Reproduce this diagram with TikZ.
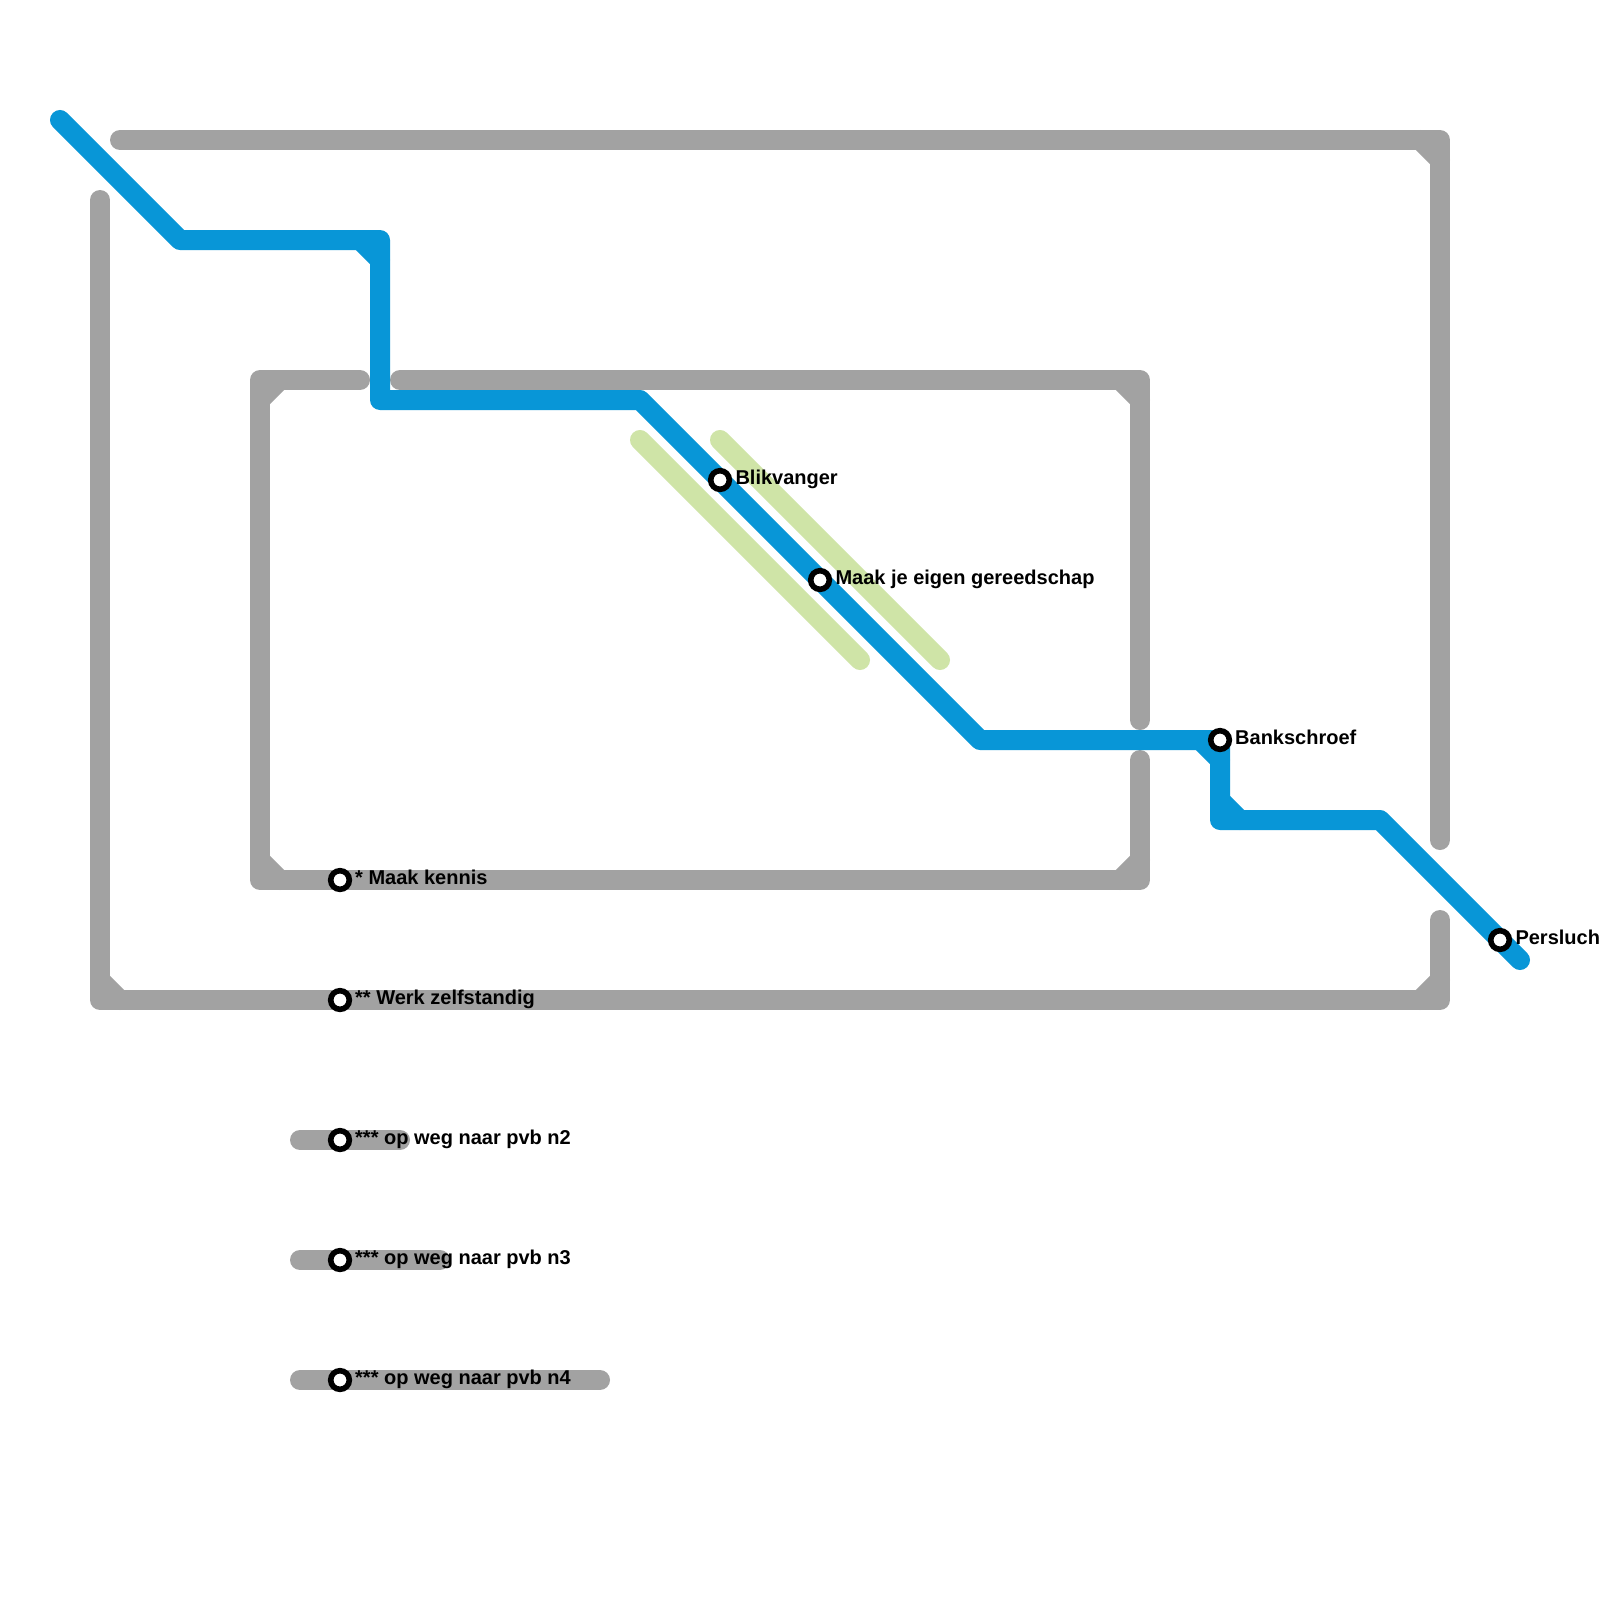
\documentclass[tikz,border=0pt]{standalone}
\usepackage{fontspec}
\setmainfont{Liberation Sans}
\definecolor{metroblue}{HTML}{0896D7}
\definecolor{metrogray}{HTML}{A2A2A2}
\definecolor{metrogreen}{HTML}{CFE4A7}
\tikzset{
  route/.style={line width=20pt,line cap=round,line join=round},
  grayroute/.style={route,draw=metrogray},
  greenroute/.style={route,draw=metrogreen},
  blueroute/.style={route,draw=metroblue},
  station/.style={circle,draw=black,fill=white,line width=5.6pt,outer sep=0pt,minimum size=18.6pt,inner sep=0pt},
  stationlabel/.style={anchor=base west,inner sep=0pt,text=black,font=\fontsize{20}{24}\selectfont\bfseries}
}
\begin{document}
\begin{tikzpicture}[x=1pt,y=-1pt]
\useasboundingbox[fill=white] (0,0) rectangle (1600,1600);
% outer gray line
\coordinate (ta) at (120,140);
\coordinate (tb) at (1440,140);
\coordinate (tc) at (1440,840);
\coordinate (ua) at (100,200);
\coordinate (ub) at (100,1000);
\coordinate (uc) at (1440,1000);
\coordinate (ud) at (1440,920);
\draw[grayroute] (ta) -- (tb) -- (tc);
\draw[grayroute] (1420,140) -- (1440,160);
\draw[grayroute] (ua) -- (ub) -- (uc) -- (ud);
\draw[grayroute] (100,980) -- (120,1000);
\draw[grayroute] (1420,1000) -- (1440,980);
% inner gray line
\coordinate (ia) at (360,380);
\coordinate (ib) at (260,380);
\coordinate (ic) at (260,880);
\coordinate (id) at (1140,880);
\coordinate (ie) at (1140,760);
\coordinate (ja) at (400,380);
\coordinate (jb) at (1140,380);
\coordinate (jc) at (1140,720);
\draw[grayroute] (ia) -- (ib) -- (ic) -- (id) -- (ie);
\draw[grayroute] (280,380) -- (260,400);
\draw[grayroute] (260,860) -- (280,880);
\draw[grayroute] (1120,880) -- (1140,860);
\draw[grayroute] (ja) -- (jb) -- (jc);
\draw[grayroute] (1120,380) -- (1140,400);
% short gray stubs
\coordinate (sa) at (300,1140);
\coordinate (sb) at (400,1140);
\coordinate (sc) at (300,1260);
\coordinate (sd) at (440,1260);
\coordinate (se) at (300,1380);
\coordinate (sf) at (600,1380);
\draw[grayroute] (sa) -- (sb);
\draw[grayroute] (sc) -- (sd);
\draw[grayroute] (se) -- (sf);
% green lines
\coordinate (ga) at (640,440);
\coordinate (gb) at (860,660);
\coordinate (gc) at (720,440);
\coordinate (gd) at (940,660);
\draw[greenroute] (ga) -- (gb);
\draw[greenroute] (gc) -- (gd);
% blue line
\coordinate (b1) at (60,120);
\coordinate (b2) at (180,240);
\coordinate (b3) at (380,240);
\coordinate (b4) at (380,400);
\coordinate (b5) at (640,400);
\coordinate (b6) at (980,740);
\coordinate (b7) at (1220,740);
\coordinate (b8) at (1220,820);
\coordinate (b9) at (1380,820);
\coordinate (b10) at (1520,960);
\draw[blueroute] (b1) -- (b2) -- (b3) -- (b4) -- (b5) -- (b6) -- (b7) -- (b8) -- (b9) -- (b10);
\draw[blueroute] (360,240) -- (380,260);
\draw[blueroute] (1200,740) -- (1220,760);
\draw[blueroute] (1220,800) -- (1240,820);
% stations
\node[station] (blik) at (720,480) {};
\node[station] (maak) at (820,580) {};
\node[station] (bank) at (1220,740) {};
\node[station] (pers) at (1500,940) {};
\node[station] (kennis) at (340,880) {};
\node[station] (werk) at (340,1000) {};
\node[station] (pvbtwo) at (340,1140) {};
\node[station] (pvbthree) at (340,1260) {};
\node[station] (pvbfour) at (340,1380) {};
% labels
\node[stationlabel] (lblik) at (735.3,484.7) {Blikvanger};
\node[stationlabel] (lmaak) at (835.3,584.7) {Maak je eigen gereedschap};
\node[stationlabel] (lbank) at (1235,744.7) {Bankschroef};
\node[stationlabel] (lpers) at (1515.3,944.7) {Persluch};
\node[stationlabel] (lkennis) at (355,884.7) {* Maak kennis};
\node[stationlabel] (lwerk) at (355,1004.7) {** Werk zelfstandig};
\node[stationlabel] (ltwo) at (355,1144.7) {*** op weg naar pvb n2};
\node[stationlabel] (lthree) at (355,1264.7) {*** op weg naar pvb n3};
\node[stationlabel] (lfour) at (355,1384.7) {*** op weg naar pvb n4};
\end{tikzpicture}
\end{document}
